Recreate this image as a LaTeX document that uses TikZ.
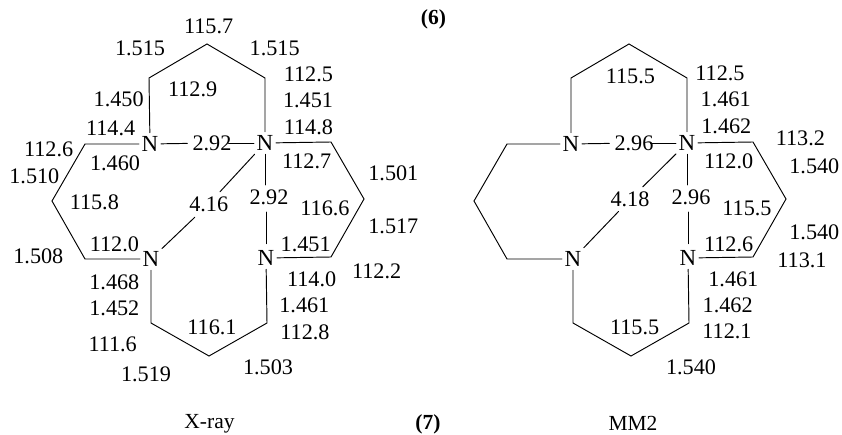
\documentclass[tikz,border=0pt]{standalone}
\usepackage{fontspec}
\setmainfont{Liberation Serif}
\tikzset{
  bond/.style={line width=0.95pt,line join=miter,line cap=round},
  numlab/.style={font=\fontsize{22.2}{22}\selectfont,inner sep=0pt,text height=15pt,text depth=0pt},
  atomlab/.style={font=\fontsize{23}{23}\selectfont,inner xsep=2.5pt,inner ysep=3.5pt,text height=15.2pt,text depth=0pt},
  boldcap/.style={font=\fontsize{21.5}{21}\selectfont\bfseries,inner sep=0pt},
  plaincap/.style={font=\fontsize{21.5}{21}\selectfont,inner sep=0pt}
}
\begin{document}
\begin{tikzpicture}[x=1pt,y=-1pt]
\useasboundingbox (0,0) rectangle (842,435);
% left molecule
\node[atomlab] (A1) at (150,144) {N};
\node[atomlab] (A2) at (265,143) {N};
\node[atomlab] (A3) at (151,259) {N};
\node[atomlab] (A4) at (266,258) {N};
\node[numlab] (AdA) at (212,143) {2.92};
\node[numlab] (AdB) at (208.7,204) {4.16};
\node[numlab] (AdC) at (269,197.5) {2.92};
\coordinate (a1) at (149,78); \coordinate (a2) at (207,44); \coordinate (a3) at (265,78);
\coordinate (a4) at (85,144); \coordinate (a5) at (52,201); \coordinate (a6) at (85,259);
\coordinate (a7) at (331,142); \coordinate (a8) at (364,199); \coordinate (a9) at (331,257);
\coordinate (a10) at (151,323); \coordinate (a11) at (209,356); \coordinate (a12) at (267,323);
\draw[bond] (A1) -- (a1) -- (a2) -- (a3) -- (A2);
\draw[bond] (A1) -- (a4) -- (a5) -- (a6) -- (A3);
\draw[bond] (A2) -- (a7) -- (a8) -- (a9) -- (A4);
\draw[bond] (A3) -- (a10) -- (a11) -- (a12) -- (A4);
\draw[bond,shorten >=5pt] (A1) -- (AdA);
\draw[bond,shorten <=-3pt] (AdA) -- (A2);
\draw[bond,shorten >=6pt] (A2) -- (AdB);
\draw[bond,shorten <=8pt] (AdB) -- (A3);
\draw[bond,shorten >=5pt] (A2.south) -- (A2.south |- AdC.north);
\draw[bond,shorten <=7pt,shorten >=3pt] (A4.north |- AdC.south) -- (A4.north);
% right molecule
\node[atomlab] (B1) at (571,144) {N};
\node[atomlab] (B2) at (687,143) {N};
\node[atomlab] (B3) at (573,259) {N};
\node[atomlab] (B4) at (688,258) {N};
\node[numlab] (BdA) at (634,143) {2.96};
\node[numlab] (BdB) at (630,199.5) {4.18};
\node[numlab] (BdC) at (691,197.5) {2.96};
\coordinate (b1) at (571,78); \coordinate (b2) at (629,44); \coordinate (b3) at (687,78);
\coordinate (b4) at (507,144); \coordinate (b5) at (474,201); \coordinate (b6) at (507,259);
\coordinate (b7) at (753,142); \coordinate (b8) at (786,199); \coordinate (b9) at (753,257);
\coordinate (b10) at (573,323); \coordinate (b11) at (631,356); \coordinate (b12) at (689,323);
\draw[bond] (B1) -- (b1) -- (b2) -- (b3) -- (B2);
\draw[bond] (B1) -- (b4) -- (b5) -- (b6) -- (B3);
\draw[bond] (B2) -- (b7) -- (b8) -- (b9) -- (B4);
\draw[bond] (B3) -- (b10) -- (b11) -- (b12) -- (B4);
\draw[bond,shorten >=5pt] (B1) -- (BdA);
\draw[bond,shorten <=-3pt] (BdA) -- (B2);
\draw[bond,shorten >=7pt] (B2) -- (BdB);
\draw[bond,shorten <=6pt] (BdB) -- (B3);
\draw[bond,shorten >=5pt] (B2.south) -- (B2.south |- BdC.north);
\draw[bond,shorten <=7pt,shorten >=3pt] (B4.north |- BdC.south) -- (B4.north);
% labels, left upper
\foreach \x/\y/\t [count=\i] in {626/78/115.7,420/145/1.515,824/145/1.515,925/223/112.5,924/300/1.451,925/380/114.8,356/296/1.450,578/268/112.9,332/385/114.4,146/448/112.6,345/488/1.460,103/528/1.510,920/482/112.7,1180/518/1.501,283/606/115.8,975/625/116.6}
  \node[numlab] (p\i) at ({\x/3},{\y/3}) {\t};
% labels, left lower
\foreach \x/\y/\t [count=\i] in {343/82/112.0,917/80/1.451,115/118/1.508,343/195/1.468,935/187/114.0,1130/163/112.2,343/272/1.452,913/265/1.461,636/330/116.1,915/345/112.8,338/380/111.6,438/472/1.519,804/450/1.503,1180/28/1.517}
  \node[numlab] (q\i) at ({\x/3},{217+\y/3}) {\t};
% labels, right upper
\foreach \x/\y/\t [count=\i] in {897/220/112.5,914/297/1.461,916/377/1.462,628/228/115.5,1138/415/113.2,1180/498/1.540,923/482/112.0,978/625/115.5}
  \node[numlab] (r\i) at ({421+\x/3},{\y/3}) {\t};
% labels, right lower
\foreach \x/\y/\t [count=\i] in {1180/45/1.540,923/82/112.6,1143/128/113.1,937/187/1.461,920/265/1.462,641/330/115.5,918/343/112.1,810/450/1.540}
  \node[numlab] (s\i) at ({421+\x/3},{217+\y/3}) {\t};
\node[boldcap] (c6) at (433.5,19) {(6)};
\node[boldcap] (c7) at (428,424) {(7)};
\node[plaincap] (nx) at (209.5,423.5) {X-ray};
\node[plaincap] (nm) at (633,423.5) {MM2};
\end{tikzpicture}
\end{document}
